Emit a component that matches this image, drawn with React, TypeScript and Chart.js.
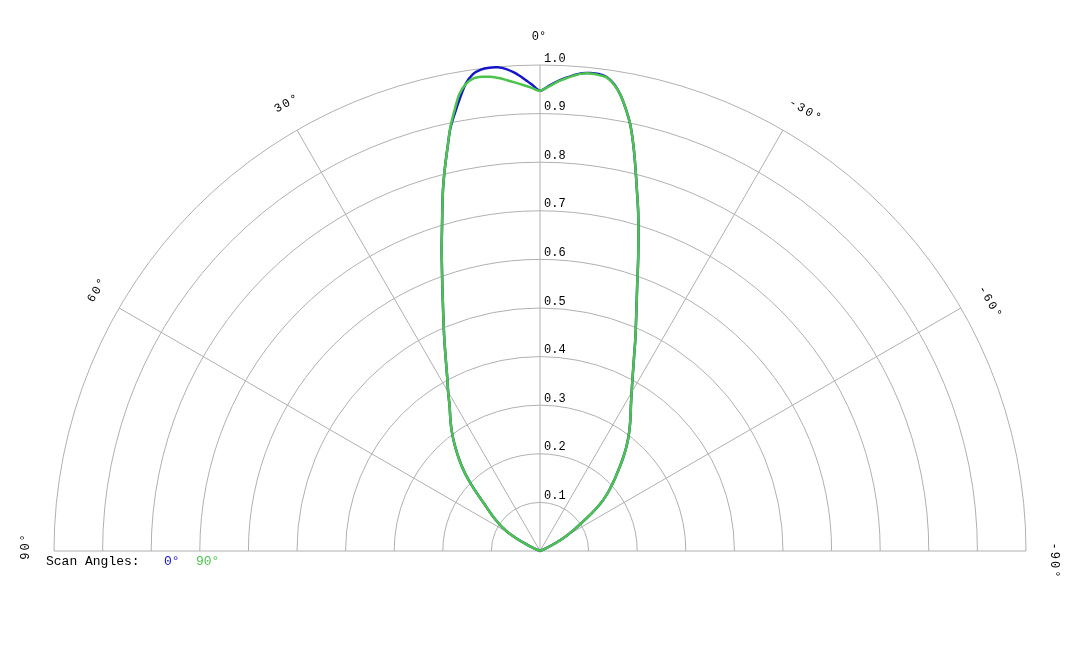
import React, { useEffect, useRef } from "react";
import { Chart, registerables, type Plugin } from "chart.js";

Chart.register(...registerables);

// scan angle in degrees, positive to the left of 0°
const angles = [
  -90, -80, -70, -66, -64, -62, -60, -58, -56, -54, -52, -50, -48, -46, -44,
  -42, -40, -38, -36, -34, -32, -30, -28, -26, -24, -22, -20, -19, -18, -17,
  -16, -15, -14, -13, -12, -11, -10, -9, -8, -7, -6, -5, -4, -3, -2, -1, 0, 1,
  2, 3, 4, 5, 6, 7, 8, 9, 10, 11, 12, 13, 14, 15, 16, 17, 18, 19, 20, 22, 24,
  26, 28, 30, 32, 34, 36, 38, 40, 42, 44, 46, 48, 50, 52, 54, 56, 58, 60, 62,
  64, 66, 70, 80, 90,
];

const scan0 = [
  0, 0, 0, 0.012, 0.028, 0.046, 0.064, 0.082, 0.103, 0.13, 0.157, 0.178, 0.196,
  0.214, 0.233, 0.254, 0.275, 0.295, 0.314, 0.333, 0.353, 0.377, 0.406, 0.441,
  0.483, 0.529, 0.585, 0.619, 0.655, 0.693, 0.732, 0.77, 0.812, 0.855, 0.895,
  0.926, 0.953, 0.973, 0.985, 0.989, 0.989, 0.987, 0.981, 0.974, 0.966, 0.956,
  0.947, 0.96, 0.973, 0.985, 0.994, 0.999, 1.0, 0.998, 0.991, 0.974, 0.947,
  0.918, 0.888, 0.848, 0.81, 0.771, 0.729, 0.69, 0.655, 0.62, 0.588, 0.532,
  0.485, 0.443, 0.407, 0.378, 0.351, 0.33, 0.31, 0.289, 0.267, 0.245, 0.222,
  0.196, 0.17, 0.148, 0.132, 0.118, 0.104, 0.09, 0.076, 0.054, 0.03, 0.012, 0,
  0, 0,
];

const scan90 = [
  0, 0, 0, 0.012, 0.028, 0.046, 0.064, 0.082, 0.103, 0.13, 0.157, 0.178, 0.196,
  0.214, 0.233, 0.254, 0.275, 0.295, 0.314, 0.333, 0.353, 0.377, 0.406, 0.441,
  0.483, 0.529, 0.585, 0.619, 0.655, 0.693, 0.732, 0.77, 0.812, 0.855, 0.895,
  0.926, 0.953, 0.972, 0.984, 0.987, 0.988, 0.986, 0.98, 0.973, 0.965, 0.955,
  0.947, 0.953, 0.959, 0.965, 0.971, 0.977, 0.981, 0.983, 0.982, 0.973, 0.955,
  0.923, 0.889, 0.848, 0.81, 0.771, 0.729, 0.69, 0.655, 0.62, 0.588, 0.532,
  0.485, 0.443, 0.407, 0.378, 0.351, 0.33, 0.31, 0.289, 0.267, 0.245, 0.222,
  0.196, 0.17, 0.148, 0.132, 0.118, 0.104, 0.09, 0.076, 0.054, 0.03, 0.012, 0,
  0, 0,
];

const rings = [0.1, 0.2, 0.3, 0.4, 0.5, 0.6, 0.7, 0.8, 0.9, 1.0];
const ringLabels = ["0.1", "0.2", "0.3", "0.4", "0.5", "0.6", "0.7", "0.8", "0.9", "1.0"];
const spokes = [90, 60, 30, 0, -30, -60, -90];
const spokeLabels = ["90°", "60°", "30°", "0°", "-30°", "-60°", "-90°"];

const BLUE = "#1414c8";
const GREEN = "#4cc44c";
const GRID = "#b0b0b0";
const FONT = "'Liberation Mono', monospace";

const toXY = (r: number[]) =>
  angles.map((a, i) => {
    const t = (a * Math.PI) / 180;
    return { x: -r[i] * Math.sin(t), y: r[i] * Math.cos(t) };
  });

const polarGrid: Plugin<"scatter"> = {
  id: "polarGrid",
  beforeDatasetsDraw(chart) {
    const { ctx } = chart;
    const xs = chart.scales.x;
    const ys = chart.scales.y;
    const cx = xs.getPixelForValue(0);
    const cy = ys.getPixelForValue(0);
    const unit = xs.getPixelForValue(1) - cx;

    ctx.save();
    ctx.strokeStyle = GRID;
    ctx.lineWidth = 1;
    rings.forEach((r) => {
      ctx.beginPath();
      ctx.arc(cx, cy, r * unit, Math.PI, 2 * Math.PI);
      ctx.stroke();
    });
    spokes.forEach((a) => {
      const t = (a * Math.PI) / 180;
      ctx.beginPath();
      ctx.moveTo(cx, cy);
      ctx.lineTo(cx - Math.sin(t) * unit, cy - Math.cos(t) * unit);
      ctx.stroke();
    });

    // radial tick labels
    ctx.fillStyle = "#000";
    ctx.font = `12px ${FONT}`;
    ctx.textAlign = "left";
    ctx.textBaseline = "alphabetic";
    rings.forEach((r, i) => {
      ctx.fillText(ringLabels[i], cx + 4, cy - r * unit - 3.5);
    });

    // angle labels, turned along the circle
    ctx.textAlign = "center";
    ctx.textBaseline = "middle";
    const lr = unit * 1.058;
    spokes.forEach((a, i) => {
      const t = (a * Math.PI) / 180;
      ctx.save();
      (ctx as any).letterSpacing = a === 0 ? "0px" : "2px";
      ctx.translate(cx - Math.sin(t) * lr, cy - Math.cos(t) * lr);
      ctx.rotate(-t);
      ctx.fillText(spokeLabels[i], a < 0 ? 10 : a === 0 ? -1 : 5, 0);
      ctx.restore();
    });

    // legend
    ctx.font = `13px ${FONT}`;
    ctx.textAlign = "left";
    ctx.textBaseline = "alphabetic";
    ctx.fillText("Scan Angles:", 46, 565);
    ctx.fillStyle = BLUE;
    ctx.fillText("0°", 164, 565);
    ctx.fillStyle = GREEN;
    ctx.fillText("90°", 196, 565);
    ctx.restore();
  },
};

const App: React.FC = () => {
  const canvasRef = useRef<HTMLCanvasElement>(null);
  const chartRef = useRef<Chart<"scatter"> | null>(null);

  useEffect(() => {
    if (!canvasRef.current) return;
    const ctx = canvasRef.current.getContext("2d");
    if (!ctx) return;
    if (chartRef.current) chartRef.current.destroy();

    chartRef.current = new Chart(ctx, {
      type: "scatter",
      data: {
        datasets: [
          {
            label: "90°",
            data: toXY(scan90),
            showLine: true,
            borderColor: GREEN,
            borderWidth: 2.5,
            pointRadius: 0,
            tension: 0.3,
            clip: false,
          },
          {
            label: "0°",
            data: toXY(scan0),
            showLine: true,
            borderColor: BLUE,
            borderWidth: 2.5,
            pointRadius: 0,
            tension: 0.3,
            clip: false,
          },
        ],
      },
      options: {
        animation: false,
        responsive: true,
        maintainAspectRatio: false,
        layout: { padding: { left: 54, right: 54, top: 65, bottom: 97 } },
        scales: {
          x: { type: "linear", min: -1, max: 1, display: false },
          y: { type: "linear", min: 0, max: 1, display: false },
        },
        plugins: {
          legend: { display: false },
          tooltip: { enabled: false },
        },
      },
      plugins: [polarGrid],
    });

    return () => {
      chartRef.current?.destroy();
      chartRef.current = null;
    };
  }, []);

  return (
    <div
      style={{
        position: "fixed",
        left: 0,
        top: 0,
        width: 1080,
        height: 648,
        background: "#fff",
      }}
    >
      <canvas ref={canvasRef} />
    </div>
  );
};

export default App;
